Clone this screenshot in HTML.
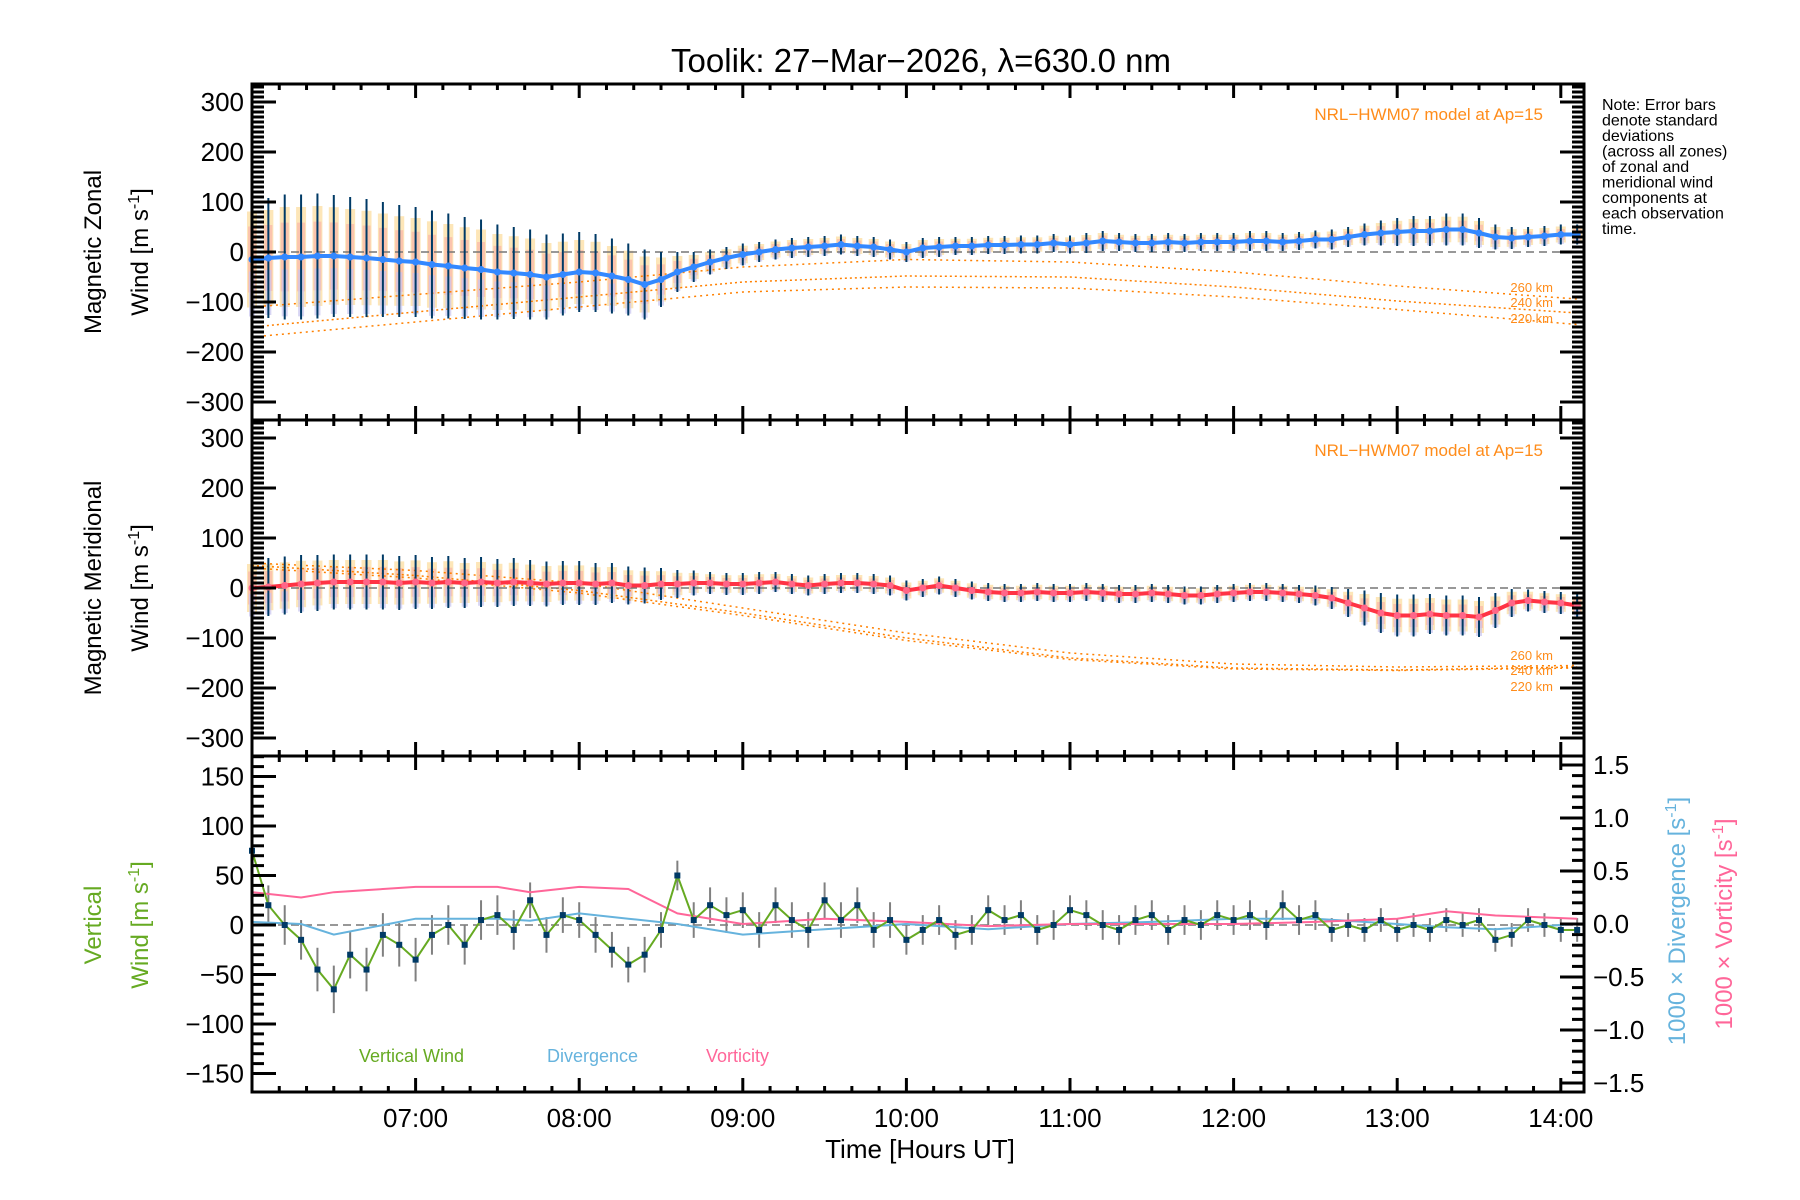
<!DOCTYPE html>
<html><head><meta charset="utf-8">
<style>
html,body{margin:0;padding:0;background:#fff;}
svg{display:block;font-family:"Liberation Sans","DejaVu Sans",sans-serif;}
</style></head>
<body>
<svg id="chart" width="1800" height="1200" viewBox="0 0 1800 1200" xmlns="http://www.w3.org/2000/svg">
<rect x="0" y="0" width="1800" height="1200" fill="#fff"/>
<text x="921" y="72" font-size="33" text-anchor="middle">Toolik: 27−Mar−2026, λ=630.0 nm</text>
<g id="layer"></g>
<g font-size="16">
<text x="1602" y="110">Note: Error bars</text>
<text x="1602" y="125.5">denote standard</text>
<text x="1602" y="141">deviations</text>
<text x="1602" y="156.5">(across all zones)</text>
<text x="1602" y="172">of zonal and</text>
<text x="1602" y="187.5">meridional wind</text>
<text x="1602" y="203">components at</text>
<text x="1602" y="218.5">each observation</text>
<text x="1602" y="234">time.</text>
</g>
<text x="1543" y="120" font-size="17" fill="#ff8c1a" text-anchor="end">NRL−HWM07 model at Ap=15</text>
<text x="1543" y="456" font-size="17" fill="#ff8c1a" text-anchor="end">NRL−HWM07 model at Ap=15</text>
<g font-size="13" fill="#ff8c1a" text-anchor="end">
<text x="1553" y="292">260 km</text><text x="1553" y="307">240 km</text><text x="1553" y="323">220 km</text>
</g>
<g font-size="13" fill="#ff8c1a" text-anchor="end">
<text x="1553" y="660">260 km</text><text x="1553" y="675">240 km</text><text x="1553" y="691">220 km</text>
</g>
<g font-size="24" text-anchor="middle">
<text transform="translate(101,252) rotate(-90)">Magnetic Zonal</text>
<text transform="translate(148,252) rotate(-90)">Wind [m s<tspan dy="-9" font-size="16">-1</tspan><tspan dy="9">]</tspan></text>
</g>
<g font-size="24" text-anchor="middle">
<text transform="translate(101,588) rotate(-90)">Magnetic Meridional</text>
<text transform="translate(148,588) rotate(-90)">Wind [m s<tspan dy="-9" font-size="16">-1</tspan><tspan dy="9">]</tspan></text>
</g>
<g font-size="24" text-anchor="middle" fill="#66aa22">
<text transform="translate(101,925) rotate(-90)">Vertical</text>
<text transform="translate(148,925) rotate(-90)">Wind [m s<tspan dy="-9" font-size="16">-1</tspan><tspan dy="9">]</tspan></text>
</g>
<text transform="translate(1685,921) rotate(-90)" font-size="24" text-anchor="middle" fill="#66b3dd">1000 × Divergence [s<tspan dy="-9" font-size="16">-1</tspan><tspan dy="9">]</tspan></text>
<text transform="translate(1732,924) rotate(-90)" font-size="24" text-anchor="middle" fill="#ff6699">1000 × Vorticity [s<tspan dy="-9" font-size="16">-1</tspan><tspan dy="9">]</tspan></text>
<text x="359" y="1062" font-size="18" fill="#66aa22">Vertical Wind</text>
<text x="547" y="1062" font-size="18" fill="#66b3dd">Divergence</text>
<text x="706" y="1062" font-size="18" fill="#ff6699">Vorticity</text>
<text x="920" y="1158" font-size="26" text-anchor="middle">Time [Hours UT]</text>
</svg>
<script>
const hours = [6.0,6.1,6.2,6.3,6.4,6.5,6.6,6.7,6.8,6.9,7.0,7.1,7.2,7.3,7.4,7.5,7.6,7.7,7.8,7.9,8.0,8.1,8.2,8.3,8.4,8.5,8.6,8.7,8.8,8.9,9.0,9.1,9.2,9.3,9.4,9.5,9.6,9.7,9.8,9.9,10.0,10.1,10.2,10.3,10.4,10.5,10.6,10.7,10.8,10.9,11.0,11.1,11.2,11.3,11.4,11.5,11.6,11.7,11.8,11.9,12.0,12.1,12.2,12.3,12.4,12.5,12.6,12.7,12.8,12.9,13.0,13.1,13.2,13.3,13.4,13.5,13.6,13.7,13.8,13.9,14.0,14.1];
const zonalMean = [-15,-12,-10,-10,-8,-8,-10,-12,-15,-18,-20,-25,-28,-32,-35,-40,-42,-45,-50,-45,-40,-42,-48,-55,-65,-55,-40,-30,-20,-12,-5,0,5,8,10,12,15,12,10,5,0,8,10,12,12,14,14,15,15,18,15,18,22,20,18,18,20,18,20,20,20,22,22,20,22,25,25,30,35,38,40,42,42,45,45,38,30,28,30,32,35,35];
const zonalStd = [120,120,125,125,125,122,120,118,115,112,110,108,105,102,100,95,92,90,85,82,80,78,75,72,70,55,40,30,25,22,22,20,20,20,20,20,20,20,20,20,20,20,20,18,18,18,18,18,18,18,18,20,20,18,18,18,18,18,18,18,18,20,20,18,18,18,20,20,22,25,28,30,30,32,32,30,25,22,20,20,20,20];
const meridMean = [0,2,5,8,10,12,12,12,12,10,12,10,12,10,12,10,12,10,8,10,10,8,10,5,5,8,8,10,10,8,8,10,12,8,5,8,10,10,8,5,-5,0,5,0,-5,-8,-10,-10,-8,-10,-10,-8,-10,-12,-12,-10,-12,-15,-15,-12,-10,-8,-8,-10,-12,-15,-20,-30,-40,-50,-55,-55,-52,-55,-55,-58,-45,-30,-25,-28,-30,-35];
const meridStd = [60,58,58,58,56,55,55,55,55,54,54,52,52,50,50,48,48,46,45,44,44,42,40,38,36,32,28,25,22,22,22,22,20,20,20,20,20,20,20,20,20,18,18,18,18,18,18,18,18,18,18,18,18,18,18,18,18,18,18,18,18,18,18,18,18,20,22,28,35,40,42,42,40,40,40,40,35,28,22,22,22,22];
const vertWind = [75,20,0,-15,-45,-65,-30,-45,-10,-20,-35,-10,0,-20,5,10,-5,25,-10,10,5,-10,-25,-40,-30,-5,50,5,20,10,15,-5,20,5,-5,25,5,20,-5,5,-15,-5,5,-10,-5,15,5,10,-5,0,15,10,0,-5,5,10,-5,5,0,10,5,10,0,20,5,10,-5,0,-5,5,-5,0,-5,5,0,5,-15,-10,5,0,-5,-5];
const vertStd = [20,20,20,20,22,24,24,22,22,22,22,20,20,20,20,20,20,18,18,18,18,18,18,18,18,18,15,18,18,18,18,18,18,18,18,18,18,18,18,18,15,15,15,15,15,15,15,15,15,15,15,15,15,15,15,15,15,15,15,15,15,15,15,15,15,15,12,12,12,12,12,12,12,12,12,12,12,12,12,12,12,12];
const sparseHours = [6.0,6.3,6.5,7.0,7.5,7.7,8.0,8.3,8.6,9.0,9.5,10.0,10.5,11.0,11.5,12.0,12.5,13.0,13.3,13.6,14.1];
const divergence = [0.02,0.0,-0.1,0.05,0.05,0.03,0.1,0.05,0.0,-0.1,-0.05,0.0,-0.05,0.0,0.02,0.05,0.05,0.0,-0.03,-0.05,0.0];
const vorticity = [0.3,0.25,0.3,0.35,0.35,0.3,0.35,0.33,0.1,0.0,0.05,0.02,-0.02,0.0,0.0,0.0,0.02,0.05,0.12,0.08,0.05];
const modelHours = [6.0,7.0,8.0,9.0,10.0,11.0,12.0,13.0,14.1];
const zonal220 = [-170,-140,-110,-80,-70,-72,-90,-115,-145];
const zonal240 = [-150,-120,-90,-60,-48,-50,-70,-98,-122];
const zonal260 = [-110,-85,-60,-30,-15,-20,-40,-68,-94];
const merid260 = [50,35,10,-40,-90,-130,-152,-158,-155];
const merid240 = [45,25,-5,-50,-100,-140,-160,-164,-158];
const merid220 = [40,20,-10,-55,-105,-143,-162,-165,-160];
const xTickLabels = ['07:00','08:00','09:00','10:00','11:00','12:00','13:00','14:00'];
const windTickLabels = ['−300','−200','−100','0','100','200','300'];
const vertTickLabels = ['−150','−100','−50','0','50','100','150'];
const rightTickLabels = ['−1.5','−1.0','−0.5','0.0','0.5','1.0','1.5'];

const NS='http://www.w3.org/2000/svg';
const layer=document.getElementById('layer');
const L=252,R=1584,T=84;
const X=h=>L+(h-6.0)*163.6;
const yZ=v=>252-v*0.5;
const yM=v=>588-v*0.5;
const yV=v=>925-v*0.99;
const yR=v=>924-v*106;
function mk(tag,attrs,parent){const e=document.createElementNS(NS,tag);for(const k in attrs)e.setAttribute(k,attrs[k]);(parent||layer).appendChild(e);return e;}
function grp(name){const g=mk('g',{});return g;}
function pathFrom(xs,ys,fx,fy){return xs.map((h,i)=>(i?'L':'M')+fx(h).toFixed(1)+' '+fy(ys[i]).toFixed(1)).join(' ');}

function windPanel(prefix,fy,mean,std,m1,m2,m3,lineColor,dotColor){
  const gBox=grp(prefix+'-spread-boxes');
  hours.forEach((h,i)=>{
    const x=X(h);
    mk('rect',{x:x-5,y:fy(mean[i]+std[i]*0.8),width:10,height:std[i]*0.8,fill:'#fde3b0',opacity:0.9},gBox);
    mk('rect',{x:x-4,y:fy(mean[i]+std[i]*0.55),width:8,height:std[i]*0.5*0.55*2,fill:'#f9b5a8',opacity:0.7},gBox);
    mk('rect',{x:x-3,y:fy(mean[i]-std[i]*0.2),width:6,height:std[i]*0.5*0.75,fill:'#c8c4f0',opacity:0.7},gBox);
  });
  const gM=grp(prefix+'-model-curves');
  [[m1,'2 4'],[m2,'2 3'],[m3,'2 4']].forEach(([arr,d])=>{
    mk('path',{d:pathFrom(modelHours,arr,X,fy),fill:'none',stroke:'#ff8000','stroke-width':1.5,'stroke-dasharray':d},gM);
  });
  mk('line',{x1:L,x2:R,y1:fy(0),y2:fy(0),stroke:'#777','stroke-width':1.5,'stroke-dasharray':'8 5'},gM);
  const gE=grp(prefix+'-error-bars');
  hours.forEach((h,i)=>{mk('line',{x1:X(h),x2:X(h),y1:fy(mean[i]+std[i]),y2:fy(mean[i]-std[i]),stroke:'#003a66','stroke-width':2},gE);});
  const ln=mk('path',{d:pathFrom(hours,mean,X,fy),fill:'none',stroke:lineColor,'stroke-width':4});
  
  
  const gD=grp(prefix+'-mean-points');
  hours.forEach((h,i)=>{mk('circle',{cx:X(h),cy:fy(mean[i]),r:3.5,fill:dotColor},gD);});
}
windPanel('zonal',yZ,zonalMean,zonalStd,zonal220,zonal240,zonal260,'#3388ff','#3388ff');
windPanel('meridional',yM,meridMean,meridStd,merid220,merid240,merid260,'#ff3344','#ff6688');

const gZ=grp('vertical-zero-line');
mk('line',{x1:L,x2:R,y1:yV(0),y2:yV(0),stroke:'#777','stroke-width':1.5,'stroke-dasharray':'8 5'},gZ);
const gVE=grp('vertical-error-bars');
hours.forEach((h,i)=>{mk('line',{x1:X(h),x2:X(h),y1:yV(vertWind[i]+vertStd[i]),y2:yV(vertWind[i]-vertStd[i]),stroke:'#808080','stroke-width':2},gVE);});
const dv=mk('path',{d:pathFrom(sparseHours,divergence,X,yR),fill:'none',stroke:'#66b3dd','stroke-width':2});


const vo=mk('path',{d:pathFrom(sparseHours,vorticity,X,yR),fill:'none',stroke:'#ff6699','stroke-width':2});


const vw=mk('path',{d:pathFrom(hours,vertWind,X,yV),fill:'none',stroke:'#66aa22','stroke-width':2});


const gVP=grp('vertical-wind-points');
hours.forEach((h,i)=>{mk('rect',{x:X(h)-3,y:yV(vertWind[i])-3,width:6,height:6,fill:'#003a66'},gVP);});

const gA=grp('axes');
[[84,420],[420,756],[756,1092]].forEach(([t,b])=>{mk('rect',{x:L,y:t,width:R-L,height:b-t,fill:'none',stroke:'#000','stroke-width':3},gA);});
function yTicks(fy,min,max,minor,major,labels,side,top,bot){
  for(let v=min;v<=max+1e-9;v+=minor){
    const y=fy(v); if(y<top-0.5||y>bot+0.5) continue;
    const isMaj=Math.abs(v/major-Math.round(v/major))<1e-6;
    const len=isMaj?24:12;
    if(side==='L') mk('line',{x1:L,x2:L+len,y1:y,y2:y,stroke:'#000','stroke-width':3},gA);
    else mk('line',{x1:R,x2:R-len,y1:y,y2:y,stroke:'#000','stroke-width':3},gA);
  }
  labels.forEach((lab,i)=>{
    const v=min+i*major; const y=fy(v);
    const t=mk('text',{x:side==='L'?L-8:R+9,y:y+9,'font-size':26,'text-anchor':side==='L'?'end':'start'},gA);
    t.textContent=lab;
  });
}
yTicks(yZ,-300,330,10,100,windTickLabels,'L',84,420);
yTicks(yZ,-300,330,10,100,[],'R',84,420);
yTicks(yM,-300,330,10,100,windTickLabels,'L',420,756);
yTicks(yM,-300,330,10,100,[],'R',420,756);
yTicks(yV,-150,170,10,50,vertTickLabels,'L',756,1092);
yTicks(yR,-1.5,1.6,0.1,0.5,rightTickLabels,'R',756,1092);
[84,420,756,1092].forEach((yb,k)=>{
  for(let m=10;m<=488;m+=10){
    const x=X(6+m/60); if(x>R) break;
    const isMaj=m%60===0; const len=isMaj?14:6;
    if(k<3) mk('line',{x1:x,x2:x,y1:yb,y2:yb+len,stroke:'#000','stroke-width':3},gA);
    if(k>0) mk('line',{x1:x,x2:x,y1:yb,y2:yb-len,stroke:'#000','stroke-width':3},gA);
  }
});
xTickLabels.forEach((lab,i)=>{const t=mk('text',{x:X(7+i),y:1127,'font-size':26,'text-anchor':'middle'},gA);t.textContent=lab;});
</script>
</body></html>
